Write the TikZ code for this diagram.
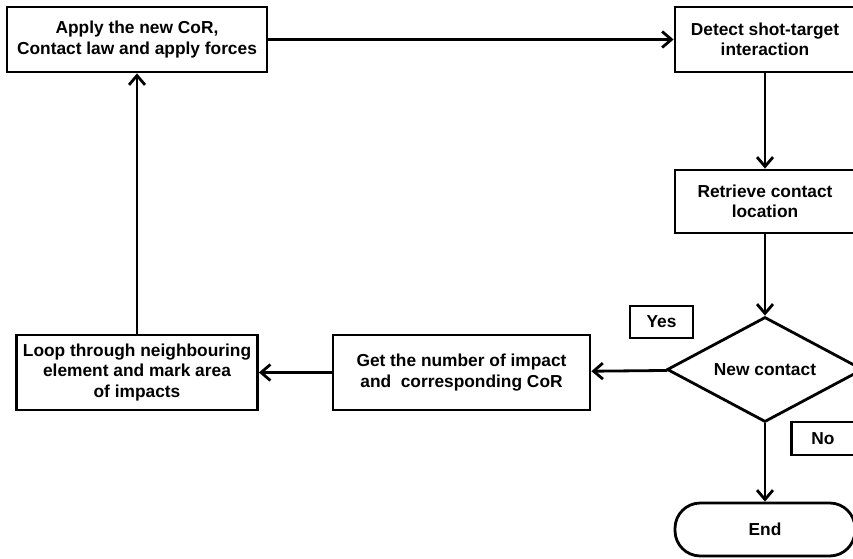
\documentclass[tikz,border=0pt]{standalone}
\usepackage{fontspec}
\setmainfont{Liberation Sans}
\usetikzlibrary{positioning,arrows.meta,shapes.geometric}
\tikzset{
process/.style={
draw,
line width=2.1pt,
minimum height=48.75pt,
align=center,
inner sep=1pt,
font=\fontsize{13}{15.4}\selectfont\bfseries
},
decision/.style={
draw,
diamond,
aspect=2,
line width=2.1pt,
minimum width=147pt,
minimum height=78.75pt,
inner sep=0pt,
font=\fontsize{13}{15.4}\selectfont\bfseries
},
answer/.style={
draw,
line width=2.1pt,
minimum width=47.25pt,
minimum height=24pt,
font=\fontsize{13}{15.4}\selectfont\bfseries
},
terminal/.style={
draw,
line width=2.1pt,
rounded corners=19pt,
minimum width=135pt,
minimum height=39.75pt,
font=\fontsize{13}{15.4}\selectfont\bfseries
},
arrow/.style={
-{Straight Barb[length=7pt,width=12pt,line width=2.1pt]},
line width=2.1pt
}
}

\begin{document}
\begin{tikzpicture}[x=0.75pt,y=-0.75pt]
\useasboundingbox(0,0)rectangle(853,559);
\clip(0,0)rectangle(853,559);
\node[process,minimum width=195pt](apply) at (137,39.5){Apply the new CoR,\\Contact law and apply forces};
\node[process,minimum width=135pt](detect) at (765,39.5){Detect shot-target\\interaction};
\node[process,minimum width=135pt,minimum height=47.25pt](retrieve) at (765,201.5){Retrieve contact\\location};
\node[decision](newc) at (765,369.5){New contact};
\node[process,minimum width=192.75pt,minimum height=56.25pt](getnum) at (461.5,372.5){Get the number of impact\\and\ \ corresponding CoR};
\node[process,minimum width=180.75pt,minimum height=56.25pt](loop) at (137,372.5){Loop through neighbouring\\element and mark area\\of impacts};
\node[terminal](stop) at (765,529.5){End};
\node[answer](yes) at (661.5,322){Yes};
\node[answer,minimum height=24.75pt](no) at (823,438.5){No};

\foreach \x/\y in {apply/detect,detect/retrieve,retrieve/newc,newc/getnum,getnum/loop,loop/apply,newc/stop}
\draw[arrow](\x)--(\y);
\end{tikzpicture}
\end{document}
